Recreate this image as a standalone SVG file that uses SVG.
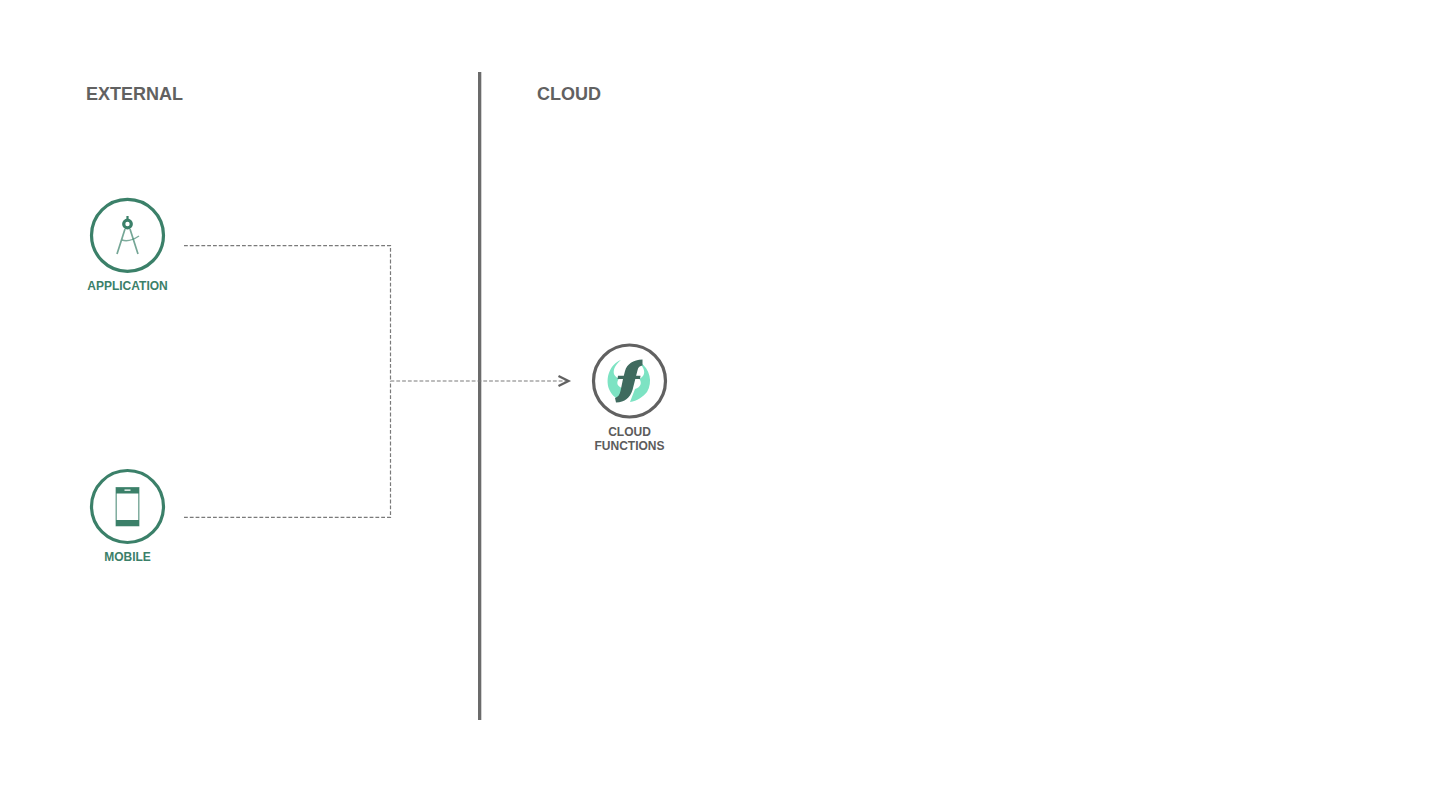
<svg xmlns="http://www.w3.org/2000/svg" width="1440" height="810" viewBox="0 0 1440 810">
<style>
text{font-family:"Liberation Sans",Arial,sans-serif;font-weight:700;text-anchor:middle}
.h{font-size:18px;fill:#616161;text-anchor:start}
.g{font-size:12px;fill:#3b8069}
.k{font-size:12px;fill:#5c5c5c}
.c{fill:#fff;stroke-width:3.2}
.d{fill:none;stroke:#7a7a7a;stroke-width:1.2;stroke-dasharray:3.8 2}
</style>
<rect width="1440" height="810" fill="#fff"/>
<rect id="divider" x="478" y="72" width="3.300" height="648" fill="#6b6b6b"/>
<text class="h" x="86" y="100.300">EXTERNAL</text>
<text class="h" x="537" y="100.300">CLOUD</text>
<g id="connectors">
<path class="d" d="M184 245.700H390.500V381"/>
<path class="d" d="M184 517.300H390.500V381"/>
<path class="d" d="M390.500 381H566"/>
<path d="M558.500 376L568.500 381L558.500 386" fill="none" stroke="#616161" stroke-width="2.300"/>
</g>
<g id="application">
<circle class="c" cx="127.500" cy="235.300" r="36" stroke="#3b8069"/>
<g fill="none" stroke="#3b8069">
<path d="M125 229L117 254M130 229L138 254" stroke-width="1.700" opacity=".7"/>
<path d="M122 240C128 242 133 240 139 236" stroke-width="1.500" opacity=".65"/>
<circle cx="127.500" cy="224" r="3.800" stroke-width="3.200"/>
<path d="M127.500 216V220" stroke-width="2.200"/>
</g>
<text class="g" x="127.500" y="290.300">APPLICATION</text>
</g>
<g id="mobile">
<circle class="c" cx="127.500" cy="506.500" r="36" stroke="#3b8069"/>
<rect x="116.200" y="487.700" width="22.600" height="38" fill="#fff" stroke="#3b8069" stroke-width="1.300" stroke-opacity=".75"/>
<rect x="116" y="487.500" width="23" height="6" fill="#3b8069"/>
<rect x="116" y="520" width="23" height="6" fill="#3b8069"/>
<rect x="124.500" y="489.500" width="6" height="1.300" fill="#fff"/>
<text class="g" x="127.500" y="561.300">MOBILE</text>
</g>
<g id="cloud-functions">
<circle class="c" cx="629.500" cy="381" r="36" stroke="#616161"/>
<path d="M621 360C610 364 605 378 609 389C611 394 615 398 620 400L622 388C617 386 616 383 619 378.500C613.500 376.500 612.500 372 615 367C616.500 364 618.500 362 621 360Z" fill="#7de3c3"/>
<path d="M640 362C650 369 653 382 647 392C643 397 637 401 630 402L635 389C641 387 642 383 639.500 379C644.500 376 645.500 372 642.500 367C641.500 365 640.500 363 640 362Z" fill="#7de3c3"/>
<path d="M642.500 359.500C633 360 627 364 625 371L623.800 375.800H618L617.500 379H623L620.500 391C619.500 395 618 397 615 398L616 402.500C625 402 630 398 632.500 390L635.300 379H640L640.500 375.800H636.100L637.600 370C638.300 367 640 365.800 642.500 365.500Z" fill="#3f6b5f"/>
<text class="k" x="629.500" y="436.300">CLOUD</text>
<text class="k" x="629.500" y="450.300">FUNCTIONS</text>
</g>
</svg>
